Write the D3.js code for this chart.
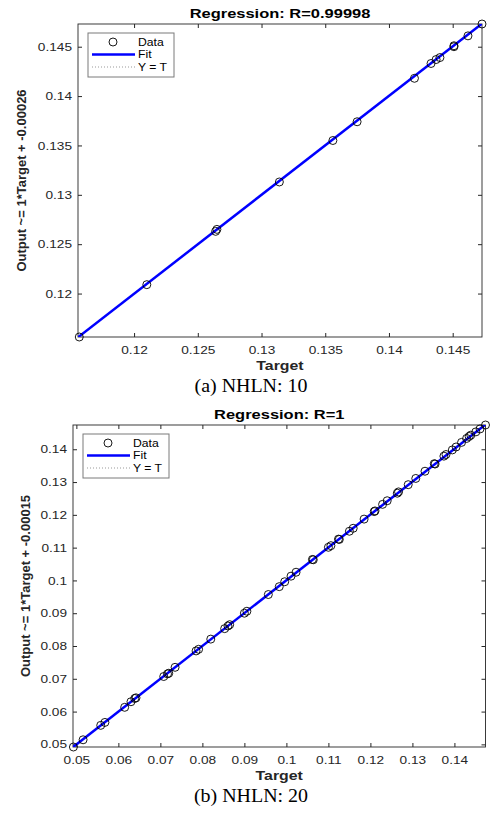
<!DOCTYPE html>
<html>
<head>
<meta charset="utf-8">
<script src="https://cdn.jsdelivr.net/npm/d3@7"></script>
<style>
body { margin: 0; background: #fff; }
text { font-family: 'Liberation Sans', Arial, sans-serif; }
</style>
</head>
<body>
<script>
// ---- data ----
var titles = ["Regression: R=0.99998", "Regression: R=1"];
var yLabels = ["Output ~= 1*Target + -0.00026", "Output ~= 1*Target + -0.00015"];
var xLabel = "Target";
var captions = ["(a) NHLN: 10", "(b) NHLN: 20"];
var legendLabels = ["Data", "Fit", "Y = T"];

var ticks1 = [0.12, 0.125, 0.13, 0.135, 0.14, 0.145];
var tickLabels1 = ["0.12", "0.125", "0.13", "0.135", "0.14", "0.145"];
var targets1 = [0.1157, 0.1210, 0.1264, 0.1265, 0.1314, 0.1356, 0.1375, 0.1420, 0.1433, 0.1437, 0.1440, 0.1451, 0.1451, 0.1462, 0.1473];
var outputs1 = [0.1156, 0.1209, 0.1263, 0.1265, 0.1313, 0.1355, 0.1374, 0.1418, 0.1433, 0.1437, 0.1439, 0.1450, 0.1451, 0.1461, 0.1473];
var fit1 = [1.002, -0.00026]; // slope, intercept

var ticks2 = [0.05, 0.06, 0.07, 0.08, 0.09, 0.1, 0.11, 0.12, 0.13, 0.14];
var tickLabels2 = ["0.05", "0.06", "0.07", "0.08", "0.09", "0.1", "0.11", "0.12", "0.13", "0.14"];
var targets2 = [0.0493, 0.0516, 0.0558, 0.0568, 0.0615, 0.0630, 0.0639, 0.0642, 0.0708, 0.0717, 0.0720, 0.0735, 0.0785, 0.0791, 0.0820, 0.0853, 0.0861, 0.0865, 0.0900, 0.0906, 0.0957, 0.0983, 0.0996, 0.1011, 0.1023, 0.1062, 0.1064, 0.1100, 0.1106, 0.1124, 0.1126, 0.1150, 0.1159, 0.1185, 0.1209, 0.1211, 0.1229, 0.1240, 0.1264, 0.1267, 0.1290, 0.1308, 0.1330, 0.1352, 0.1354, 0.1375, 0.1380, 0.1395, 0.1404, 0.1417, 0.1429, 0.1435, 0.1439, 0.1451, 0.1461, 0.1474];
var outputs2 = [0.0492, 0.0514, 0.0558, 0.0567, 0.0613, 0.0630, 0.0640, 0.0642, 0.0707, 0.0715, 0.0717, 0.0735, 0.0785, 0.0790, 0.0821, 0.0853, 0.0861, 0.0865, 0.0900, 0.0906, 0.0957, 0.0981, 0.0996, 0.1013, 0.1025, 0.1064, 0.1063, 0.1101, 0.1106, 0.1126, 0.1125, 0.1150, 0.1159, 0.1187, 0.1210, 0.1212, 0.1232, 0.1243, 0.1266, 0.1270, 0.1292, 0.1311, 0.1333, 0.1356, 0.1355, 0.1379, 0.1384, 0.1398, 0.1407, 0.1421, 0.1433, 0.1439, 0.1443, 0.1453, 0.1462, 0.1474];
var fit2 = [1.002, -0.00015];

var W = 491, H = 814;
var stretch = 1.22; // the figure is widened horizontally
var svg = d3.select('body').append('svg').attr('width', W).attr('height', H);
svg.append('rect').attr('width', W).attr('height', H).attr('fill', '#fff');

function stext(parent, x, y, txt) {
	return parent.append('text')
		.attr('transform', 'translate(' + x + ',' + y + ') scale(' + stretch + ',1)')
		.text(txt);
}

function panel(id, box, targets, outputs, fit, ticks, tickLabels, title, ylabel, caption, ylabX) {
	var ext = d3.extent(targets.concat(outputs));
	var x = d3.scaleLinear().domain(ext).range([box.left, box.right]);
	var y = d3.scaleLinear().domain(ext).range([box.bottom, box.top]);
	var g = svg.append('g');

	g.append('clipPath').attr('id', 'clip' + id)
		.append('rect')
		.attr('x', box.left).attr('y', box.top)
		.attr('width', box.right - box.left).attr('height', box.bottom - box.top);

	// axes with inward ticks on all four sides
	var fmt = function(d, i) { return tickLabels[i]; };
	var bottom = g.append('g').attr('transform', 'translate(0,' + box.bottom + ')')
		.call(d3.axisBottom(x).tickValues(ticks).tickFormat(fmt).tickSizeInner(-4).tickSizeOuter(0).tickPadding(9));
	var left = g.append('g').attr('transform', 'translate(' + box.left + ',0)')
		.call(d3.axisLeft(y).tickValues(ticks).tickFormat(fmt).tickSizeInner(-4).tickSizeOuter(0).tickPadding(6));
	g.append('g').attr('transform', 'translate(0,' + box.top + ')')
		.call(d3.axisTop(x).tickValues(ticks).tickFormat('').tickSizeInner(-4).tickSizeOuter(0));
	g.append('g').attr('transform', 'translate(' + box.right + ',0)')
		.call(d3.axisRight(y).tickValues(ticks).tickFormat('').tickSizeInner(-4).tickSizeOuter(0));
	g.selectAll('.domain').remove();
	g.selectAll('.tick line').attr('stroke', '#262626');
	g.selectAll('.tick text').attr('fill', '#262626').style('font-size', '11.2px')
		.style('font-family', "'Liberation Sans', Arial, sans-serif");
	bottom.selectAll('.tick text').attr('transform', 'scale(' + stretch + ',1)');
	left.selectAll('.tick text').attr('x', 0).attr('transform', 'translate(-6,0) scale(' + stretch + ',1)');

	g.append('rect')
		.attr('x', box.left).attr('y', box.top)
		.attr('width', box.right - box.left).attr('height', box.bottom - box.top)
		.attr('fill', 'none').attr('stroke', '#262626').attr('stroke-width', 0.9);

	// Y = T dotted line, fit line, data circles
	var line = d3.line().x(function(d) { return x(d[0]); }).y(function(d) { return y(d[1]); });
	g.append('path')
		.attr('d', line([[ext[0], ext[0]], [ext[1], ext[1]]]))
		.attr('clip-path', 'url(#clip' + id + ')')
		.attr('stroke', '#999').attr('stroke-dasharray', '1,2').attr('fill', 'none');
	g.append('path')
		.attr('d', line([[ext[0], fit[0] * ext[0] + fit[1]], [ext[1], fit[0] * ext[1] + fit[1]]]))
		.attr('clip-path', 'url(#clip' + id + ')')
		.attr('stroke', '#0000ff').attr('stroke-width', 2.5).attr('fill', 'none');
	g.selectAll('circle.pt')
		.data(targets)
		.enter().append('circle')
		.attr('class', 'pt')
		.attr('cx', function(d) { return x(d); })
		.attr('cy', function(d, i) { return y(outputs[i]); })
		.attr('r', 4)
		.attr('fill', 'none').attr('stroke', '#000').attr('stroke-width', 0.9);

	// legend
	var lg = g.append('g').attr('transform', 'translate(' + (box.left + 10) + ',' + (box.top + 9) + ')');
	lg.append('rect').attr('width', 86).attr('height', 44)
		.attr('fill', '#fff').attr('stroke', '#7a7a7a').attr('stroke-width', 1);
	var rows = [9, 21.5, 34];
	lg.append('circle').attr('cx', 25).attr('cy', rows[0]).attr('r', 4)
		.attr('fill', 'none').attr('stroke', '#000').attr('stroke-width', 0.9);
	lg.append('line').attr('x1', 4).attr('x2', 47).attr('y1', rows[1]).attr('y2', rows[1])
		.attr('stroke', '#0000ff').attr('stroke-width', 2.5);
	lg.append('line').attr('x1', 4).attr('x2', 47).attr('y1', rows[2]).attr('y2', rows[2])
		.attr('stroke', '#999').attr('stroke-dasharray', '1,2');
	for (var k = 0; k < legendLabels.length; k++) {
		stext(lg, 50, rows[k] + 3.5, legendLabels[k]).style('font-size', '10px').attr('fill', '#000');
	}

	// title, axis labels, caption
	stext(g, (box.left + box.right) / 2, box.top - 6, title)
		.attr('text-anchor', 'middle').style('font-size', '13.5px').style('font-weight', 'bold');
	stext(g, (box.left + box.right) / 2, box.bottom + 33, xLabel)
		.attr('text-anchor', 'middle').style('font-size', '13px').style('font-weight', 'bold').attr('fill', '#262626');
	g.append('text')
		.attr('transform', 'translate(' + ylabX + ',' + ((box.top + box.bottom) / 2) + ') rotate(-90)')
		.attr('text-anchor', 'middle').style('font-size', '13px').style('font-weight', 'bold').attr('fill', '#262626')
		.text(ylabel);
	g.append('text')
		.attr('transform', 'translate(251,' + (box.bottom + 55) + ') scale(1.05,1)')
		.attr('text-anchor', 'middle')
		.style('font-family', "'Liberation Serif', 'Times New Roman', serif").style('font-size', '19px')
		.text(caption);
}

panel(1, {left: 78, right: 482, top: 24, bottom: 337}, targets1, outputs1, fit1, ticks1, tickLabels1,
	titles[0], yLabels[0], captions[0], 26);
panel(2, {left: 73, right: 485.5, top: 425, bottom: 747}, targets2, outputs2, fit2, ticks2, tickLabels2,
	titles[1], yLabels[1], captions[1], 30);
</script>
</body>
</html>
